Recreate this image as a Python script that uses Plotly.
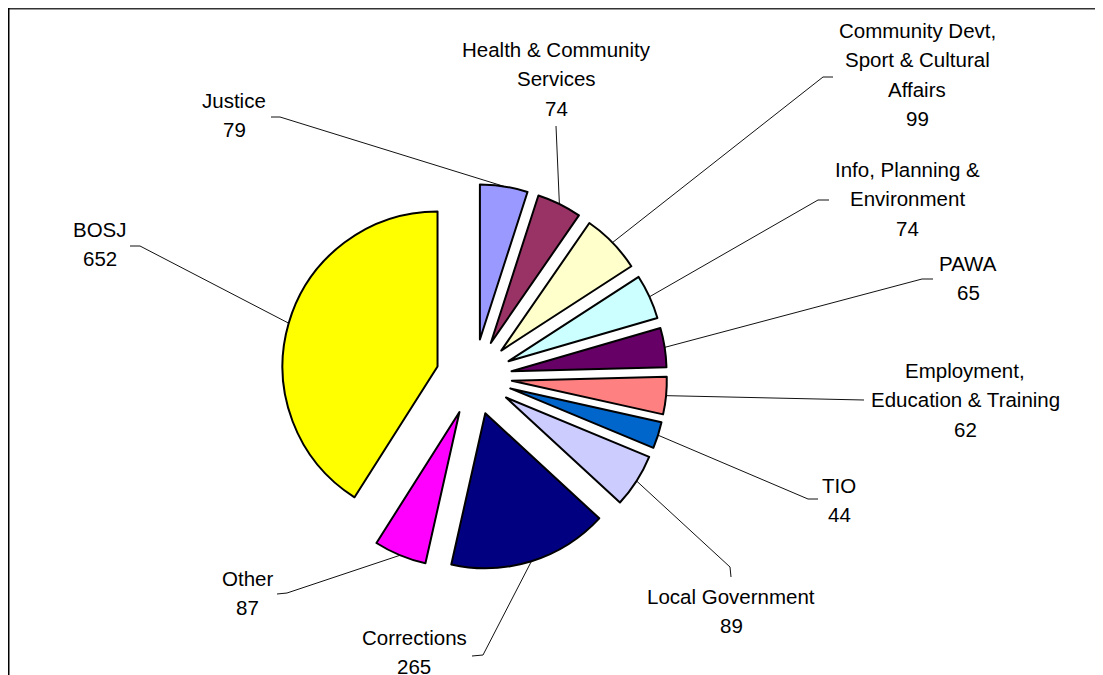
import numpy as np
import plotly.graph_objects as go

# ---------------- data ----------------
labels = ["Justice", "Health & Community Services",
          "Community Devt, Sport & Cultural Affairs",
          "Info, Planning & Environment", "PAWA",
          "Employment, Education & Training", "TIO", "Local Government",
          "Corrections", "Other", "BOSJ"]
values = [79, 74, 99, 74, 65, 62, 44, 89, 265, 87, 652]
label_lines = [["Justice"], ["Health & Community", "Services"],
               ["Community Devt,", "Sport & Cultural", "Affairs"],
               ["Info, Planning &", "Environment"], ["PAWA"],
               ["Employment,", "Education & Training"], ["TIO"],
               ["Local Government"], ["Corrections"], ["Other"], ["BOSJ"]]
colors = ["#9999FF", "#993366", "#FFFFCC", "#CCFFFF", "#660066", "#FF8080",
          "#0066CC", "#CCCCFF", "#000080", "#FF00FF", "#FFFF00"]

# ---------------- layout (screen pixels) ----------------
W, H = 1103, 675
OFF = 8                    # page body margin in the browser
FW, FH = W - OFF, H - OFF  # figure size so it fits the window
CX, CY = 474, 377          # pie centre
R = 155                    # pie radius
PULL = 0.245               # explosion
R_OUT = R * (1 + PULL)
LINE_PITCH = 29.5
FONT = dict(family="Liberation Sans, Arial, sans-serif", size=20.5, color="black")

label_pos = [(234, 100), (556, 49), (917, 30), (907, 169), (968, 263),
             (965, 370), (839, 485), (731, 596), (414, 637), (247, 578),
             (100, 229)]
elbows = [(280, 117), (556.5, 135), (823, 77), (818, 200), (922, 279),
          (853, 400), (808, 499), (730, 567), (483, 655), (287, 593),
          (140, 246)]
tails = [(271, 117), (556, 126), (833, 77), (829, 200), (933, 279),
         (864, 400), (818, 499), (731, 577), (472, 656), (277, 594),
         (130, 246)]

# ---------------- leader lines from data angles ----------------
vals = np.array(values, dtype=float)
cum = np.cumsum(vals)
start = np.concatenate([[0], cum[:-1]])
mid_ang = np.deg2rad((start + vals / 2) / vals.sum() * 360.0)
px = CX + R_OUT * np.sin(mid_ang)
py = CY - R_OUT * np.cos(mid_ang)

lx, ly = [], []
for i in range(len(values)):
    lx += [px[i], elbows[i][0], tails[i][0], None]
    ly += [py[i], elbows[i][1], tails[i][1], None]

fig = go.Figure()
fig.add_trace(go.Scatter(x=lx, y=ly, mode="lines",
                         line=dict(color="#111111", width=1),
                         hoverinfo="skip", showlegend=False))

fx0, fx1 = (CX - R_OUT - OFF) / FW, (CX + R_OUT - OFF) / FW
fy0, fy1 = 1 - (CY + R_OUT - OFF) / FH, 1 - (CY - R_OUT - OFF) / FH
fig.add_trace(go.Pie(
    labels=labels, values=values, sort=False, direction="clockwise",
    rotation=0, pull=[PULL] * len(values), textinfo="none",
    marker=dict(colors=colors, line=dict(color="black", width=2)),
    hoverinfo="label+value", showlegend=False,
    domain=dict(x=[fx0, fx1], y=[fy0, fy1])))

annotations = []
for i, lines in enumerate(label_lines):
    all_lines = lines + [str(values[i])]
    x0, y0 = label_pos[i]
    for k, t in enumerate(all_lines):
        annotations.append(dict(x=x0, y=y0 + k * LINE_PITCH, xref="x", yref="y",
                                text=t, showarrow=False, font=FONT,
                                xanchor="center", yanchor="middle"))

shapes = [
    dict(type="line", xref="x", yref="y", x0=8, y0=8.5, x1=W, y1=8.5,
         line=dict(color="#333333", width=2)),
    dict(type="line", xref="x", yref="y", x0=8.5, y0=8, x1=8.5, y1=H,
         line=dict(color="black", width=2)),
]

fig.update_layout(
    width=FW, height=FH, margin=dict(l=0, r=0, t=0, b=0),
    paper_bgcolor="white", plot_bgcolor="white",
    xaxis=dict(range=[OFF, W], visible=False, fixedrange=True),
    yaxis=dict(range=[H, OFF], visible=False, fixedrange=True),
    annotations=annotations, shapes=shapes, showlegend=False,
)

fig.write_html("out.html")
